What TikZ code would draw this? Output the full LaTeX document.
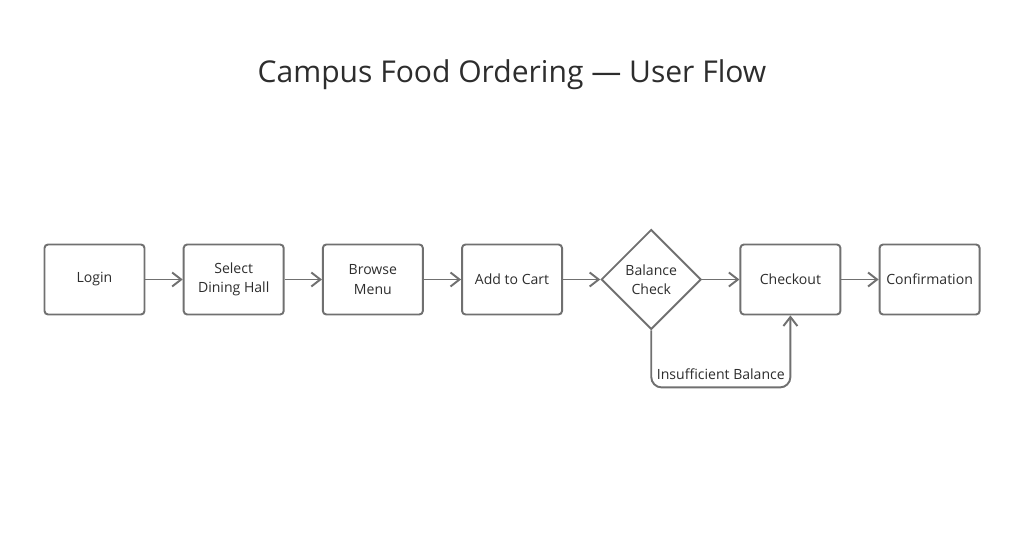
\documentclass[tikz,border=0pt]{standalone}
\usepackage{fontspec}
\setmainfont{Open Sans}
\usetikzlibrary{shapes.geometric, arrows.meta, positioning}
\definecolor{linegray}{RGB}{112,112,112}
\definecolor{textgray}{RGB}{45,45,45}

\begin{document}
\begin{tikzpicture}[
    >={Straight Barb[length=1.8mm, width=2.8mm]},
    node distance=0.745cm,
    stepbox/.style={draw=linegray, line width=1.1pt, rounded corners=2pt,
        minimum width=2cm, minimum height=1.4cm, inner sep=1pt, align=center,
        text=textgray, font=\fontsize{8}{11}\selectfont},
    decision/.style={diamond, aspect=1, draw=linegray, line width=1.1pt,
        minimum width=2cm, minimum height=2cm, inner sep=0pt, align=center,
        text=textgray, font=\fontsize{8}{11}\selectfont},
    flow/.style={->, draw=linegray, line width=1.1pt}
]
    % Page frame
    \useasboundingbox (0,0) rectangle (20.48,-11.18);

    % Title
    \node[text=textgray, font=\fontsize{17.1}{20}\selectfont] (title) at (10.24,-1.5)
        {Campus Food Ordering — User Flow};

    % Steps of the flow
    \node[stepbox] (login) at (1.89,-5.59) {Login};
    \node[stepbox, right=of login] (hall) {Select\\Dining Hall};
    \node[stepbox, right=of hall] (menu) {Browse\\Menu};
    \node[stepbox, right=of menu] (cart) {Add to Cart};
    \node[decision, right=of cart] (balance) {Balance\\Check};
    \node[stepbox, right=of balance] (checkout) {Checkout};
    \node[stepbox, right=of checkout] (confirm) {Confirmation};

    % Main connectors
    \draw[flow] (login) -- (hall);
    \draw[flow] (hall) -- (menu);
    \draw[flow] (menu) -- (cart);
    \draw[flow] (cart) -- (balance);
    \draw[flow] (balance) -- (checkout);
    \draw[flow] (checkout) -- (confirm);

    % Retry loop
    \draw[flow, rounded corners=6pt] (balance.south) -- ++(0,-1.14)
        -| node[pos=0.25, above, inner sep=4pt, text=textgray,
                font=\fontsize{8}{11}\selectfont] (lowbal) {Insufficient Balance}
        (checkout.south);
\end{tikzpicture}
\end{document}
